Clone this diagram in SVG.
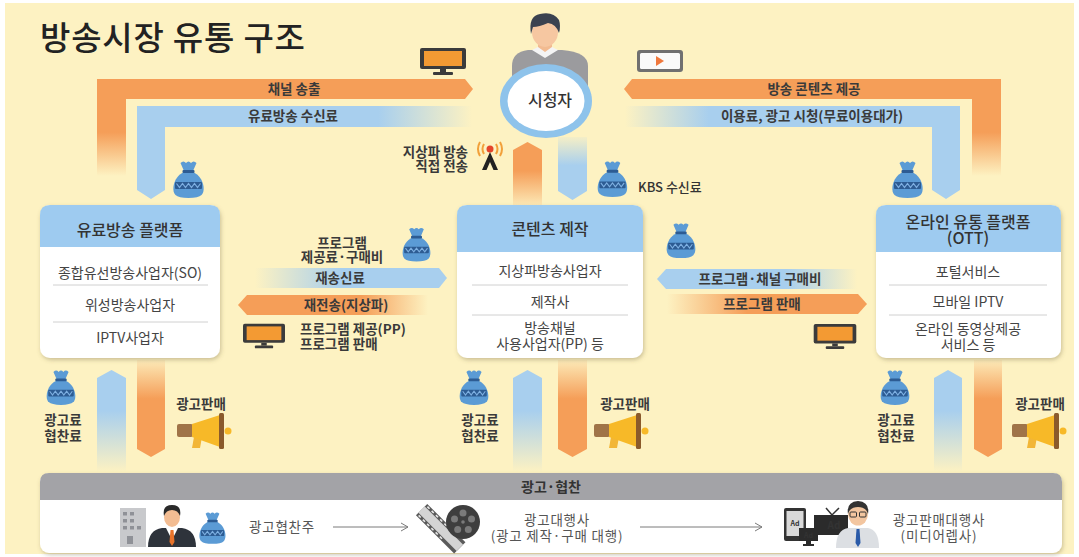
<svg xmlns="http://www.w3.org/2000/svg" width="1079" height="557" viewBox="0 0 1079 557">
<defs>
<style>
text{font-family:"Noto Sans CJK KR","Noto Sans",sans-serif;fill:#333}
.t{font-size:33px;font-weight:500;fill:#222;letter-spacing:0.8px}
.lb{font-size:13.5px;font-weight:700;text-anchor:middle;fill:#3a3a3a}
.lbs{font-size:13.5px;font-weight:700;fill:#3a3a3a}
.hd{font-size:16px;font-weight:500;text-anchor:middle;fill:#333}
.row{font-size:14px;font-weight:400;text-anchor:middle;fill:#444}
.ad{font-size:13.5px;font-weight:400;fill:#555;text-anchor:middle;letter-spacing:0.8px}
.dv{stroke:#d0d0d0;stroke-width:1}
.bar{stroke:#7a7a7a;stroke-width:1;fill:none}
</style>
<filter id="sh" x="-10%" y="-10%" width="120%" height="130%">
<feDropShadow dx="1" dy="2" stdDeviation="2" flood-color="#6b5d3a" flood-opacity="0.35"/>
</filter>
<!-- flow fills -->
<linearGradient id="gOV" gradientUnits="userSpaceOnUse" x1="0" y1="79" x2="0" y2="176">
<stop offset="0" stop-color="#f59e58"/><stop offset="0.55" stop-color="#f59e58"/><stop offset="1" stop-color="#f59e58" stop-opacity="0"/></linearGradient>
<linearGradient id="gBL" gradientUnits="userSpaceOnUse" x1="137" y1="0" x2="472" y2="0">
<stop offset="0" stop-color="#a8cfee"/><stop offset="0.72" stop-color="#a8cfee"/><stop offset="1" stop-color="#a8cfee" stop-opacity="0"/></linearGradient>
<linearGradient id="gBR" gradientUnits="userSpaceOnUse" x1="625" y1="0" x2="960" y2="0">
<stop offset="0" stop-color="#a8cfee" stop-opacity="0"/><stop offset="0.25" stop-color="#a8cfee"/><stop offset="1" stop-color="#a8cfee"/></linearGradient>
<linearGradient id="gCU" gradientUnits="userSpaceOnUse" x1="0" y1="142" x2="0" y2="206">
<stop offset="0" stop-color="#f59e58"/><stop offset="0.45" stop-color="#f59e58"/><stop offset="1" stop-color="#f59e58" stop-opacity="0.1"/></linearGradient>
<linearGradient id="gCD" gradientUnits="userSpaceOnUse" x1="0" y1="137" x2="0" y2="200">
<stop offset="0" stop-color="#a8cfee" stop-opacity="0.1"/><stop offset="0.45" stop-color="#a8cfee"/><stop offset="1" stop-color="#a8cfee"/></linearGradient>
<linearGradient id="gBU" gradientUnits="userSpaceOnUse" x1="0" y1="370" x2="0" y2="472">
<stop offset="0" stop-color="#a8cfee"/><stop offset="0.4" stop-color="#a8cfee"/><stop offset="1" stop-color="#a8cfee" stop-opacity="0"/></linearGradient>
<linearGradient id="gBD" gradientUnits="userSpaceOnUse" x1="0" y1="360" x2="0" y2="457">
<stop offset="0" stop-color="#f59e58" stop-opacity="0.1"/><stop offset="0.4" stop-color="#f59e58"/><stop offset="1" stop-color="#f59e58"/></linearGradient>
<linearGradient id="gML1" gradientUnits="userSpaceOnUse" x1="255" y1="0" x2="447" y2="0">
<stop offset="0" stop-color="#a8cfee" stop-opacity="0"/><stop offset="0.45" stop-color="#a8cfee"/><stop offset="1" stop-color="#a8cfee"/></linearGradient>
<linearGradient id="gML2" gradientUnits="userSpaceOnUse" x1="238" y1="0" x2="428" y2="0">
<stop offset="0" stop-color="#f59e58"/><stop offset="0.65" stop-color="#f59e58"/><stop offset="1" stop-color="#f59e58" stop-opacity="0"/></linearGradient>
<linearGradient id="gMR1" gradientUnits="userSpaceOnUse" x1="657" y1="0" x2="857" y2="0">
<stop offset="0" stop-color="#a8cfee"/><stop offset="0.65" stop-color="#a8cfee"/><stop offset="1" stop-color="#a8cfee" stop-opacity="0"/></linearGradient>
<linearGradient id="gMR2" gradientUnits="userSpaceOnUse" x1="667" y1="0" x2="867" y2="0">
<stop offset="0" stop-color="#f59e58" stop-opacity="0"/><stop offset="0.4" stop-color="#f59e58"/><stop offset="1" stop-color="#f59e58"/></linearGradient>

<!-- money bag -->
<symbol id="bag" viewBox="0 0 36 38">
<path d="M10 3 Q13 0 15.5 3 Q18 0 20.5 3 Q23 0 26 3 L22.5 11 L13.5 11 Z" fill="#5b9bd5"/>
<path d="M14 12 C4 15 0 30 5 35 Q8 38 18 38 Q28 38 31 35 C36 30 32 15 22 12 Z" fill="#5b9bd5"/>
<rect x="12" y="10" width="12" height="3" rx="1" fill="#2d5c93"/>
<rect x="4.5" y="22" width="27" height="7" rx="1" fill="#2d5c93"/>
<path d="M6 23.5 L9 27.5 L12 23.5 L15 27.5 L18 23.5 L21 27.5 L24 23.5 L27 27.5 L30 23.5" stroke="#7eb0e2" stroke-width="1.2" fill="none"/>
</symbol>
<!-- megaphone -->
<symbol id="mega" viewBox="0 0 56 36">
<polygon points="17,24 25,24 23,35 15,35" fill="#f2b637"/>
<rect x="0" y="11" width="16" height="13" rx="2" fill="#a07448"/>
<polygon points="15,11 43,2 43,34 15,24" fill="#f7b928"/>
<rect x="42" y="0" width="5" height="36" rx="1.5" fill="#8a5a2b"/>
<circle cx="51" cy="18" r="3.5" fill="#f7b928"/>
</symbol>
<!-- television -->
<symbol id="tv" viewBox="0 0 46 27">
<rect x="0" y="0" width="46" height="21" rx="2" fill="#3b3b3b"/>
<rect x="4" y="3" width="38" height="15" fill="#f39a33"/>
<rect x="20" y="21" width="6" height="3" fill="#3b3b3b"/>
<rect x="13" y="24" width="20" height="3" rx="1" fill="#3b3b3b"/>
</symbol>
</defs>

<!-- backdrop -->
<rect width="1079" height="557" fill="#ffffff"/>
<rect x="5" y="3" width="1069" height="551" fill="#fdf2c2"/>

<text id="title" class="t" x="40" y="50">방송시장 유통 구조</text>

<!-- flows -->
<g id="connectors">
<path d="M97,79 H465 L473,89 L465,99 H126 V176 H97 Z" fill="url(#gOV)"/>
<path d="M137,106 H472 V127 H165 V190 L151,199 L137,190 Z" fill="url(#gBL)"/>
<path d="M624,89 L632,79 H1001 V176 H972 V99 H632 Z" fill="url(#gOV)"/>
<path d="M625,106 H960 V190 L946,199 L932,190 V127 H625 Z" fill="url(#gBR)"/>
<path d="M513,150 L527.5,142 L542,150 V206 H513 Z" fill="url(#gCU)"/>
<path d="M558,137 H587 V191 L572.5,200 L558,191 Z" fill="url(#gCD)"/>
<path d="M255,268 H439 L447,278 L439,288 H255 Z" fill="url(#gML1)"/>
<path d="M238,305 L247,295 H428 V315 H247 Z" fill="url(#gML2)"/>
<path d="M657,279 L666,269 H857 V289 H666 Z" fill="url(#gMR1)"/>
<path d="M667,294 H858 L867,304 L858,314 H667 Z" fill="url(#gMR2)"/>
<path d="M97,378 L111.5,370 L126,378 V472 H97 Z" fill="url(#gBU)"/>
<path d="M137,360 H165 V449 L151,457 L137,449 Z" fill="url(#gBD)"/>
<path d="M513,378 L527.5,370 L542,378 V472 H513 Z" fill="url(#gBU)"/>
<path d="M558,360 H587 V449 L572.5,457 L558,449 Z" fill="url(#gBD)"/>
<path d="M934,378 L948,370 L962,378 V472 H934 Z" fill="url(#gBU)"/>
<path d="M974,360 H1002 V449 L988,457 L974,449 Z" fill="url(#gBD)"/>
</g>

<!-- flow labels -->
<g id="flow-labels">
<text class="lb" x="294" y="94">채널 송출</text>
<text class="lb" x="293" y="121">유료방송 수신료</text>
<text class="lb" x="814" y="94">방송 콘텐츠 제공</text>
<text class="lb" x="812" y="121">이용료, 광고 시청(무료이용대가)</text>
<text class="lbs" text-anchor="end" y="157"><tspan x="468">지상파 방송</tspan><tspan x="468" dy="14">직접 전송</tspan></text>
<text x="638" y="192" font-size="13" font-weight="500">KBS 수신료</text>
<text class="lb" y="248"><tspan x="342">프로그램</tspan><tspan x="342" dy="14">제공료·구매비</tspan></text>
<text class="lb" x="340" y="283">재송신료</text>
<text class="lb" x="346" y="310">재전송(지상파)</text>
<text class="lbs" y="334"><tspan x="300">프로그램 제공(PP)</tspan><tspan x="300" dy="15">프로그램 판매</tspan></text>
<text class="lb" x="760" y="284">프로그램·채널 구매비</text>
<text class="lb" x="762" y="309">프로그램 판매</text>
<text class="lb" font-size="14" y="425"><tspan x="63">광고료</tspan><tspan x="63" dy="16">협찬료</tspan></text>
<text class="lb" font-size="14" y="425"><tspan x="480">광고료</tspan><tspan x="480" dy="16">협찬료</tspan></text>
<text class="lb" font-size="14" y="425"><tspan x="896">광고료</tspan><tspan x="896" dy="16">협찬료</tspan></text>
<text class="lb" x="201" y="409" font-size="13">광고판매</text>
<text class="lb" x="625" y="409" font-size="13">광고판매</text>
<text class="lb" x="1040" y="409" font-size="13">광고판매</text>
</g>

<!-- icons along the flows -->
<g id="flow-icons">
<use href="#tv" x="420" y="48" width="46" height="27"/>
<g id="play-icon">
<rect x="637" y="50" width="46" height="22" rx="3" fill="#707070"/>
<rect x="640" y="53" width="40" height="16" rx="1.5" fill="#fafafa"/>
<polygon points="656,56 664,61 656,66" fill="#f0783c"/>
</g>
<use href="#bag" x="170" y="160" width="37" height="38"/>
<use href="#bag" x="889" y="160" width="37" height="38"/>
<use href="#bag" x="595" y="160" width="35" height="37"/>
<use href="#bag" x="400" y="226" width="33" height="36"/>
<use href="#bag" x="663" y="222" width="36" height="36"/>
<use href="#tv" x="243" y="323" width="42" height="26"/>
<use href="#tv" x="813" y="324" width="44" height="25"/>
<use href="#bag" x="44" y="369" width="34" height="36"/>
<use href="#bag" x="457" y="369" width="34" height="36"/>
<use href="#bag" x="878" y="369" width="34" height="36"/>
<use href="#mega" x="177" y="413" width="56" height="36"/>
<use href="#mega" x="594" y="413" width="56" height="36"/>
<use href="#mega" x="1012" y="413" width="56" height="36"/>
<g id="antenna">
<path d="M484,144 Q481,149 484,154 M480,142 Q476,149 480,156 M496,144 Q499,149 496,154 M500,142 Q504,149 500,156" stroke="#f2a03a" stroke-width="2" fill="none"/>
<circle cx="490" cy="149" r="3.5" fill="#e5452b"/>
<polygon points="490,152 482,170 486.5,170 490,162 493.5,170 498,170" fill="#222"/>
</g>
</g>

<!-- viewer -->
<g id="viewer">
<path d="M512,92 V66 Q512,52 528,50 L562,50 Q588,52 588,66 V92 Z" fill="#9b9b9e"/>
<rect x="538" y="40" width="14" height="12" fill="#f2bb91"/>
<path d="M532,50 L545,58 L558,50 L552,47 L545,52 L538,47 Z" fill="#f4f4f4"/>
<ellipse cx="545" cy="32" rx="13" ry="15" fill="#f6c7a1"/>
<path d="M531,34 Q528,16 540,14 Q553,11 559,20 Q561,26 559,33 Q556,24 548,23 Q539,27 533,27 Z" fill="#3b4250"/>
<ellipse cx="546" cy="101" rx="46" ry="37" fill="#8ec3eb"/>
<ellipse cx="546" cy="101" rx="38.5" ry="30" fill="#ffffff"/>
<text x="550" y="106" font-size="16" font-weight="500" text-anchor="middle">시청자</text>
</g>

<!-- paid broadcasting platform -->
<g id="box-paid">
<rect x="40" y="205" width="180" height="153" rx="10" fill="#ffffff" filter="url(#sh)"/>
<path d="M40,247 V215 Q40,205 50,205 H210 Q220,205 220,215 V247 Z" fill="#9ecbf0"/>
<text class="hd" x="130" y="236">유료방송 플랫폼</text>
<text class="row" x="130" y="278">종합유선방송사업자(SO)</text>
<line class="dv" x1="53" y1="285" x2="208" y2="285"/>
<text class="row" x="130" y="310">위성방송사업자</text>
<line class="dv" x1="53" y1="322" x2="208" y2="322"/>
<text class="row" x="130" y="343">IPTV사업자</text>
</g>

<!-- content production -->
<g id="box-content">
<rect x="457" y="205" width="186" height="153" rx="10" fill="#ffffff" filter="url(#sh)"/>
<path d="M457,252 V215 Q457,205 467,205 H633 Q643,205 643,215 V252 Z" fill="#9ecbf0"/>
<text class="hd" x="550" y="235">콘텐츠 제작</text>
<text class="row" x="550" y="276">지상파방송사업자</text>
<line class="dv" x1="472" y1="285" x2="628" y2="285"/>
<text class="row" x="550" y="307">제작사</text>
<line class="dv" x1="472" y1="315" x2="628" y2="315"/>
<text class="row" y="333"><tspan x="550">방송채널</tspan><tspan x="550" dy="16">사용사업자(PP) 등</tspan></text>
</g>

<!-- online distribution platform -->
<g id="box-ott">
<rect x="876" y="205" width="185" height="153" rx="10" fill="#ffffff" filter="url(#sh)"/>
<path d="M876,252 V215 Q876,205 886,205 H1051 Q1061,205 1061,215 V252 Z" fill="#9ecbf0"/>
<text class="hd" y="228"><tspan x="968">온라인 유통 플랫폼</tspan><tspan x="968" dy="16">(OTT)</tspan></text>
<text class="row" x="968" y="277">포털서비스</text>
<line class="dv" x1="889" y1="285" x2="1047" y2="285"/>
<text class="row" x="968" y="307">모바일 IPTV</text>
<line class="dv" x1="889" y1="315" x2="1047" y2="315"/>
<text class="row" y="334"><tspan x="968">온라인 동영상제공</tspan><tspan x="968" dy="16">서비스 등</tspan></text>
</g>

<!-- advertising & sponsorship -->
<g id="ad-panel">
<rect x="40" y="473" width="1022" height="80" rx="9" fill="#ffffff" filter="url(#sh)"/>
<path d="M40,500 V482 Q40,473 49,473 H1053 Q1062,473 1062,482 V500 Z" fill="#a3a3a7"/>
<text x="551" y="492" font-size="14" font-weight="700" fill="#ffffff" text-anchor="middle">광고·협찬</text>

<g id="advertiser">
<rect x="120" y="508" width="26" height="39" fill="#c8c9cc"/>
<g fill="#8f9197">
<rect x="123" y="512" width="4" height="3.5"/><rect x="130" y="512" width="4" height="3.5"/>
<rect x="123" y="519" width="4" height="3.5"/><rect x="130" y="519" width="4" height="3.5"/>
<rect x="123" y="526" width="4" height="3.5"/><rect x="130" y="526" width="4" height="3.5"/>
<rect x="137" y="526" width="4" height="3.5"/>
<rect x="127" y="536" width="6" height="8"/>
</g>
<path d="M148,547 Q148,530 162,528 L182,528 Q196,530 196,547 Z" fill="#2e333b"/>
<polygon points="166,528 172,540 178,528" fill="#ffffff"/>
<polygon points="170.5,530 173.5,530 174.5,542 172,546 169.5,542" fill="#e8732a"/>
<ellipse cx="172" cy="517" rx="8" ry="10" fill="#f3bd93"/>
<path d="M164,516 Q162,505 172,505 Q182,505 180,516 Q178,510 172,510 Q166,510 164,516 Z" fill="#2a2a2a"/>
<use href="#bag" x="197" y="510" width="31" height="35"/>
</g>
<text class="ad" x="282" y="532">광고협찬주</text>
<line class="bar" x1="333" y1="527" x2="408" y2="527"/>
<polyline class="bar" points="401,523 408,527 401,531"/>

<g id="agency">
<g transform="rotate(45 440 528)">
<rect x="414" y="520" width="54" height="16" fill="#5a5a5a"/>
<rect x="414" y="523.5" width="54" height="9" fill="#d4d4d4"/>
<g fill="#e8e8e8">
<rect x="416" y="521" width="3" height="1.6"/><rect x="422" y="521" width="3" height="1.6"/><rect x="428" y="521" width="3" height="1.6"/><rect x="434" y="521" width="3" height="1.6"/><rect x="440" y="521" width="3" height="1.6"/><rect x="446" y="521" width="3" height="1.6"/>
<rect x="416" y="533.4" width="3" height="1.6"/><rect x="422" y="533.4" width="3" height="1.6"/><rect x="428" y="533.4" width="3" height="1.6"/><rect x="434" y="533.4" width="3" height="1.6"/><rect x="440" y="533.4" width="3" height="1.6"/><rect x="446" y="533.4" width="3" height="1.6"/>
</g>
</g>
<circle cx="463" cy="522" r="17" fill="#3e3e3e"/>
<g fill="#7a7a7a">
<circle cx="463" cy="513" r="3.5"/><circle cx="471.5" cy="519" r="3.5"/><circle cx="468.3" cy="529.5" r="3.5"/>
<circle cx="457.7" cy="529.5" r="3.5"/><circle cx="454.5" cy="519" r="3.5"/>
</g>
<circle cx="463" cy="522" r="1.8" fill="#7a7a7a"/>
</g>
<text class="ad" y="525"><tspan x="557">광고대행사</tspan><tspan x="557" dy="16">(광고 제작·구매 대행)</tspan></text>
<line class="bar" x1="640" y1="527" x2="762" y2="527"/>
<polyline class="bar" points="755,523 762,527 755,531"/>

<g id="media-rep">
<rect x="784" y="508" width="22" height="33" rx="2" fill="#333333"/>
<rect x="786.5" y="511" width="17" height="25" fill="#d9d9d9"/>
<text x="795" y="526" font-size="7" font-weight="700" fill="#555" text-anchor="middle" font-family="Liberation Sans, sans-serif">Ad</text>
<path d="M826,508 L832,515 L839,508" stroke="#333" stroke-width="1.5" fill="none"/>
<rect x="814" y="515" width="34" height="20" fill="#2b2b2b"/>
<text x="834" y="529" font-size="10" font-weight="700" fill="#f7b52a" text-anchor="middle" font-family="Liberation Sans, sans-serif">Ad</text>
<rect x="799" y="528" width="19" height="13" fill="#2b2b2b"/>
<text x="808.5" y="538" font-size="7" font-weight="700" fill="#f7b52a" text-anchor="middle" font-family="Liberation Sans, sans-serif">Ad</text>
<rect x="806" y="541" width="5" height="3" fill="#2b2b2b"/>
<rect x="803" y="544" width="11" height="2" fill="#2b2b2b"/>
<path d="M836,548 Q836,530 848,528 L868,528 Q879,530 879,548 Z" fill="#dcdfe3"/>
<polygon points="856.5,529 859.5,529 860.5,543 858,547 855.5,543" fill="#2a5aa8"/>
<ellipse cx="858" cy="514" rx="10" ry="11.5" fill="#f3c6a0"/>
<path d="M848,514 Q846,502 858,501 Q870,502 868,514 Q866,507 858,507 Q850,507 848,514 Z" fill="#333"/>
<rect x="850" y="512" width="6.5" height="5" rx="1" fill="none" stroke="#333" stroke-width="1"/>
<rect x="859.5" y="512" width="6.5" height="5" rx="1" fill="none" stroke="#333" stroke-width="1"/>
</g>
<text class="ad" y="525"><tspan x="939">광고판매대행사</tspan><tspan x="939" dy="16">(미디어렙사)</tspan></text>
</g>
</svg>
